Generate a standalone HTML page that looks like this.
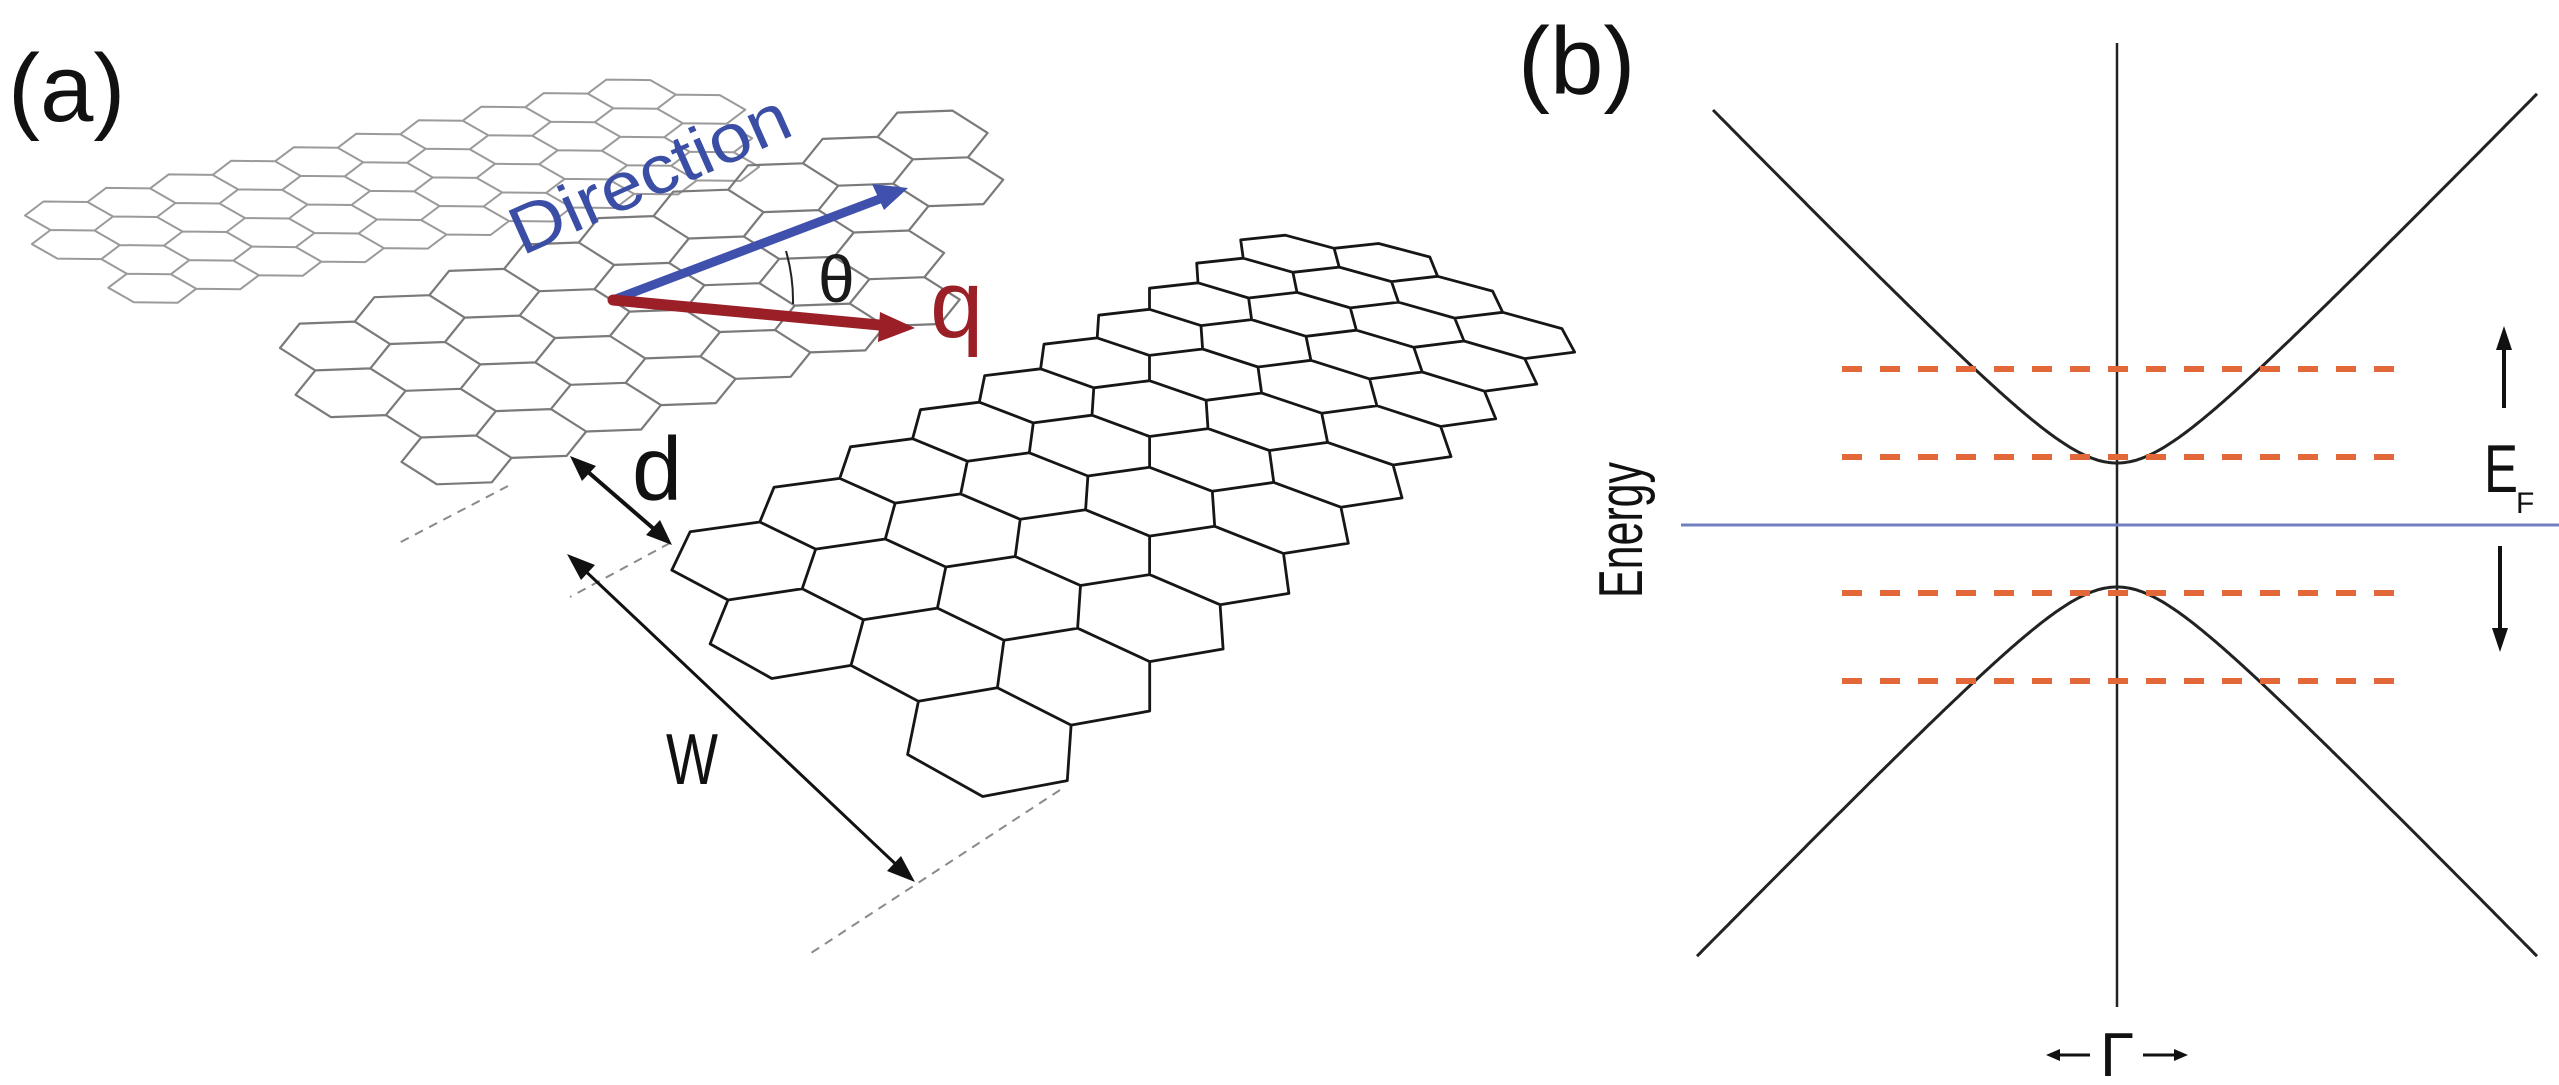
<!DOCTYPE html>
<html><head><meta charset="utf-8">
<style>
html,body{margin:0;padding:0;background:#fff;}
svg{display:block;}
text{font-family:"Liberation Sans",sans-serif;}
</style></head>
<body>
<svg id="s" width="2559" height="1085" viewBox="0 0 2559 1085" xmlns="http://www.w3.org/2000/svg">
<rect width="2559" height="1085" fill="#fff"/>
<g id="lat"></g>

<g stroke="#8a8a8a" stroke-width="2" stroke-dasharray="9 7" fill="none">
<line x1="508" y1="486" x2="395" y2="545"/>
<line x1="670" y1="543" x2="570" y2="597"/>
<line x1="1060" y1="790" x2="808" y2="955"/>
</g>

<line x1="613" y1="300" x2="885" y2="197" stroke="#3f51ad" stroke-width="9" stroke-linecap="round"/>
<polygon points="908,188 872,184 884,210" fill="#3f51ad"/>
<line x1="613" y1="300" x2="890" y2="326" stroke="#9b1f27" stroke-width="11" stroke-linecap="round"/>
<polygon points="915,328 880,312 878,342" fill="#9b1f27"/>
<path d="M786,251 A180,180 0 0 1 793,304" fill="none" stroke="#222" stroke-width="2"/>
<text x="818" y="302" font-size="66" fill="#1a1a1a">θ</text>
<text x="930" y="337" font-size="96" fill="#9b1f27">q</text>
<text x="0" y="0" font-size="68" fill="#3b4ea6" transform="translate(522,256) rotate(-24)" textLength="300" lengthAdjust="spacingAndGlyphs">Direction</text>

<line x1="580" y1="465" x2="662" y2="536" stroke="#111" stroke-width="4"/>
<polygon points="570,456 596,466 582,481" fill="#111"/>
<polygon points="672,545 646,535 660,520" fill="#111"/>
<text x="632" y="500" font-size="90" fill="#111">d</text>

<line x1="578" y1="564" x2="904" y2="872" stroke="#111" stroke-width="3"/>
<polygon points="567,554 595,565 581,580" fill="#111"/>
<polygon points="915,882 887,871 901,856" fill="#111"/>
<text x="666" y="784" font-size="72" fill="#111" textLength="52" lengthAdjust="spacingAndGlyphs">W</text>

<text x="8" y="121" font-size="96" fill="#111">(a)</text>
<text x="1518" y="94" font-size="96" fill="#111">(b)</text>

<line x1="2117" y1="43" x2="2117" y2="1007" stroke="#222" stroke-width="2.5"/>
<line x1="1681" y1="525" x2="2559" y2="525" stroke="#7180c0" stroke-width="3"/>
<g id="bands" fill="none" stroke="#222" stroke-width="3"></g>
<g stroke="#e2683a" stroke-width="6" stroke-dasharray="20 18" fill="none">
<line x1="1842" y1="369" x2="2412" y2="369"/>
<line x1="1842" y1="457" x2="2412" y2="457"/>
<line x1="1842" y1="593" x2="2412" y2="593"/>
<line x1="1842" y1="681" x2="2412" y2="681"/>
</g>
<line x1="2504" y1="408" x2="2504" y2="345" stroke="#111" stroke-width="4"/>
<polygon points="2504,326 2496,350 2512,350" fill="#111"/>
<line x1="2500" y1="546" x2="2500" y2="632" stroke="#111" stroke-width="4"/>
<polygon points="2500,652 2492,628 2508,628" fill="#111"/>
<text x="2484" y="492" font-size="68" fill="#111" textLength="34" lengthAdjust="spacingAndGlyphs">E</text>
<text x="2516" y="513" font-size="30" fill="#111">F</text>
<text x="0" y="0" font-size="62" fill="#111" transform="translate(1642,598) rotate(-90)" textLength="136" lengthAdjust="spacingAndGlyphs">Energy</text>
<text x="2100" y="1076" font-size="62" fill="#111">Γ</text>
<line x1="2054" y1="1055" x2="2090" y2="1055" stroke="#111" stroke-width="3"/>
<polygon points="2046,1055 2060,1049 2060,1061" fill="#111"/>
<line x1="2143" y1="1055" x2="2180" y2="1055" stroke="#111" stroke-width="3"/>
<polygon points="2188,1055 2174,1049 2174,1061" fill="#111"/>
</svg>
<script>
(function(){
var NS="http://www.w3.org/2000/svg";
function solve(A,b){var n=b.length;for(var i=0;i<n;i++){var m=i;for(var r=i+1;r<n;r++)if(Math.abs(A[r][i])>Math.abs(A[m][i]))m=r;var t=A[i];A[i]=A[m];A[m]=t;var tb=b[i];b[i]=b[m];b[m]=tb;for(var r=i+1;r<n;r++){var f=A[r][i]/A[i][i];for(var c=i;c<n;c++)A[r][c]-=f*A[i][c];b[r]-=f*b[i];}}var x=new Array(n);for(var i=n-1;i>=0;i--){var s=b[i];for(var c=i+1;c<n;c++)s-=A[i][c]*x[c];x[i]=s/A[i][i];}return x;}
function homogLS(src,dst){
  var rowsA=[],rb=[];
  for(var k=0;k<src.length;k++){var x=src[k][0],y=src[k][1],u=dst[k][0],v=dst[k][1];
    rowsA.push([x,y,1,0,0,0,-x*u,-y*u]);rb.push(u);rowsA.push([0,0,0,x,y,1,-x*v,-y*v]);rb.push(v);}
  var N=[],nb=[];for(var i=0;i<8;i++){N.push([0,0,0,0,0,0,0,0]);nb.push(0);}
  for(var r=0;r<rowsA.length;r++)for(var i=0;i<8;i++){nb[i]+=rowsA[r][i]*rb[r];for(var j=0;j<8;j++)N[i][j]+=rowsA[r][i]*rowsA[r][j];}
  var h=solve(N,nb);
  return function(x,y){var w=h[6]*x+h[7]*y+1;return[(h[0]*x+h[1]*y+h[2])/w,(h[3]*x+h[4]*y+h[5])/w];};
}
function affine(O,P,Q){return function(x,y){return[O[0]+x*P[0]+y*Q[0],O[1]+x*P[1]+y*Q[1]];};}
function cen(i,k){return[1.5*i,-0.8660254*i+1.7320508*k];}
function draw(H,rows,color,w){
  var d="";
  for(var k=0;k<rows.length;k++)for(var i=rows[k][0];i<=rows[k][1];i++){
    var c=cen(i,k);
    for(var m=0;m<6;m++){var a=Math.PI/3*m;var p=H(c[0]+Math.cos(a),c[1]+Math.sin(a));d+=(m?"L":"M")+p[0].toFixed(1)+","+p[1].toFixed(1);}
    d+="Z";
  }
  var e=document.createElementNS(NS,"path");e.setAttribute("d",d);e.setAttribute("fill","none");e.setAttribute("stroke",color);e.setAttribute("stroke-width",w);e.setAttribute("stroke-linejoin","round");
  document.getElementById("lat").appendChild(e);
}
draw(affine([69,216],[44,0.5],[4,16.5]),[[0,9],[0,10],[1,10],[1,10]],"#9a9a9a",2);
draw(affine([335,346],[55,-2],[9,27]),[[0,8],[0,8],[1,7],[1,7]],"#7a7a7a",2.2);
var hv=[[1,0],[0.5,0.8660254],[-0.5,0.8660254],[-1,0],[-0.5,-0.8660254],[0.5,-0.8660254]];
var meas=[
 {i:0,k:0,v:[[817,549],[808,588],[714,599],[677,569],[686,534],[765,523]]},
 {i:1,k:3,v:[[1068,726],[1065,781],[983,797],[911,752],[920,701],[998,687]]},
 {i:9,k:0,v:[[1334,249],[1338,268],[1292,270],[1244,258],[1241,239],[1285,236]]}
];
var src=[],dst=[];
meas.forEach(function(h){var c=cen(h.i,h.k);var sx=0,sy=0;for(var m=0;m<6;m++){src.push([c[0]+hv[m][0],c[1]+hv[m][1]]);dst.push(h.v[m]);sx+=h.v[m][0];sy+=h.v[m][1];}src.push(c);dst.push([sx/6,sy/6]);});
src.push(cen(10,3));dst.push([1514,335]);
src.push(cen(10,3));dst.push([1514,335]);
draw(homogLS(src,dst),[[0,9],[0,10],[1,10],[1,10]],"#161616",2.8);
var a=65.7,k=1.0236,cx=2117,g=document.getElementById("bands");
function br(v,s,x0,x1){var d="";for(var x=x0;x<=x1;x+=2){var dx=x-cx;var y=v+s*(Math.sqrt(a*a+k*k*dx*dx)-a);d+=(x==x0?"M":"L")+x+","+y.toFixed(1);}var e=document.createElementNS(NS,"path");e.setAttribute("d",d);g.appendChild(e);}
br(463,-1,1713,2537);
br(587,1,1697,2537);
})();
</script>
</body></html>
